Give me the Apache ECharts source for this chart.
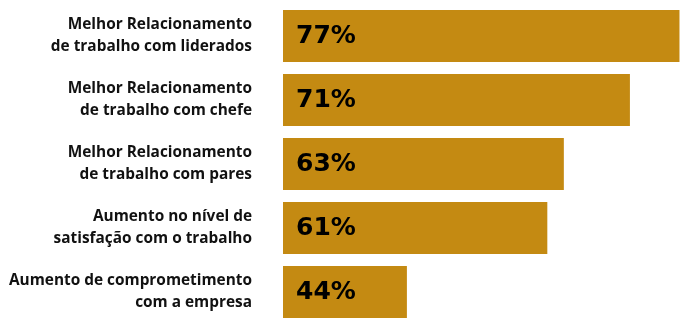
<!DOCTYPE html>
<html><head><meta charset="utf-8">
<script src="https://cdn.jsdelivr.net/npm/echarts@6/dist/echarts.min.js"></script>
<style>html,body{margin:0;padding:0;background:#fff}#c{width:698px;height:329px}</style>
</head><body><div id="c"></div>
<script>
var categories = [
  "Melhor Relacionamento\nde trabalho com liderados",
  "Melhor Relacionamento\nde trabalho com chefe",
  "Melhor Relacionamento\nde trabalho com pares",
  "Aumento no nível de\nsatisfação com o trabalho",
  "Aumento de comprometimento\ncom a empresa"
];
var values = [77, 71, 63, 61, 44];

var chart = echarts.init(document.getElementById('c'));
chart.setOption({
  animation: false,
  grid: { left: 283, right: 2, top: 4, bottom: 5, containLabel: false },
  xAxis: { type: 'value', min: 29, max: 79, show: false },
  yAxis: {
    type: 'category', data: categories, inverse: true,
    axisLine: { show: false }, axisTick: { show: false },
    axisLabel: {
      margin: 31, align: 'right', color: '#111',
      fontFamily: 'Open Sans', fontWeight: 'bold', fontSize: 15.4, lineHeight: 22
    }
  },
  series: [{
    type: 'bar', data: values, barCategoryGap: '19%',
    itemStyle: { color: '#C48A12' },
    label: {
      show: true, position: 'insideLeft', distance: 13,
      formatter: '{c}%', color: '#000',
      fontFamily: 'DejaVu Sans', fontWeight: 'bold', fontSize: 25
    }
  }]
});
</script></body></html>
